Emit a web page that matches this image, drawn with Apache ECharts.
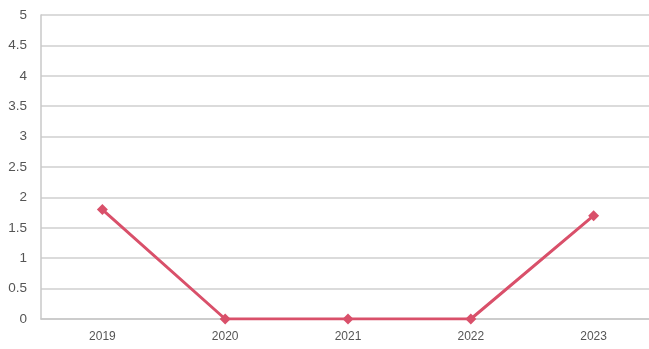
<!DOCTYPE html>
<html><head><meta charset="utf-8">
<script src="https://cdn.jsdelivr.net/npm/echarts@6/dist/echarts.min.js"></script>
<style>html,body{margin:0;padding:0;background:#fff;overflow:hidden;width:649px;height:349px}#c{width:660px;height:349px}</style>
</head><body><div id="c"></div>
<script>
const categories = ['2019','2020','2021','2022','2023'];
const values = [1.8, 0, 0, 0, 1.7];
const chart = echarts.init(document.getElementById('c'));
chart.setOption({
  animation:false,
  backgroundColor:'#fff',
  grid:{left:41,right:5,top:15,bottom:30,outerBoundsMode:'none'},
  xAxis:{type:'category',data:categories,boundaryGap:true,
    axisLine:{lineStyle:{color:'#c8c8c8',width:1.5}},axisTick:{show:false},
    axisLabel:{color:'#555',fontSize:12,fontFamily:'Liberation Sans',margin:12}},
  yAxis:{type:'value',min:0,max:5,interval:0.5,
    axisLine:{show:true,lineStyle:{color:'#c8c8c8',width:1.5}},
    splitLine:{lineStyle:{color:'#cfcfcf',width:1.5}},
    axisLabel:{color:'#555',fontSize:13.5,fontFamily:'Liberation Sans',margin:14}},
  series:[{type:'line',data:values,symbol:'diamond',symbolSize:11,
    lineStyle:{color:'#d9506a',width:3},itemStyle:{color:'#d9506a'}}]
});
</script></body></html>
